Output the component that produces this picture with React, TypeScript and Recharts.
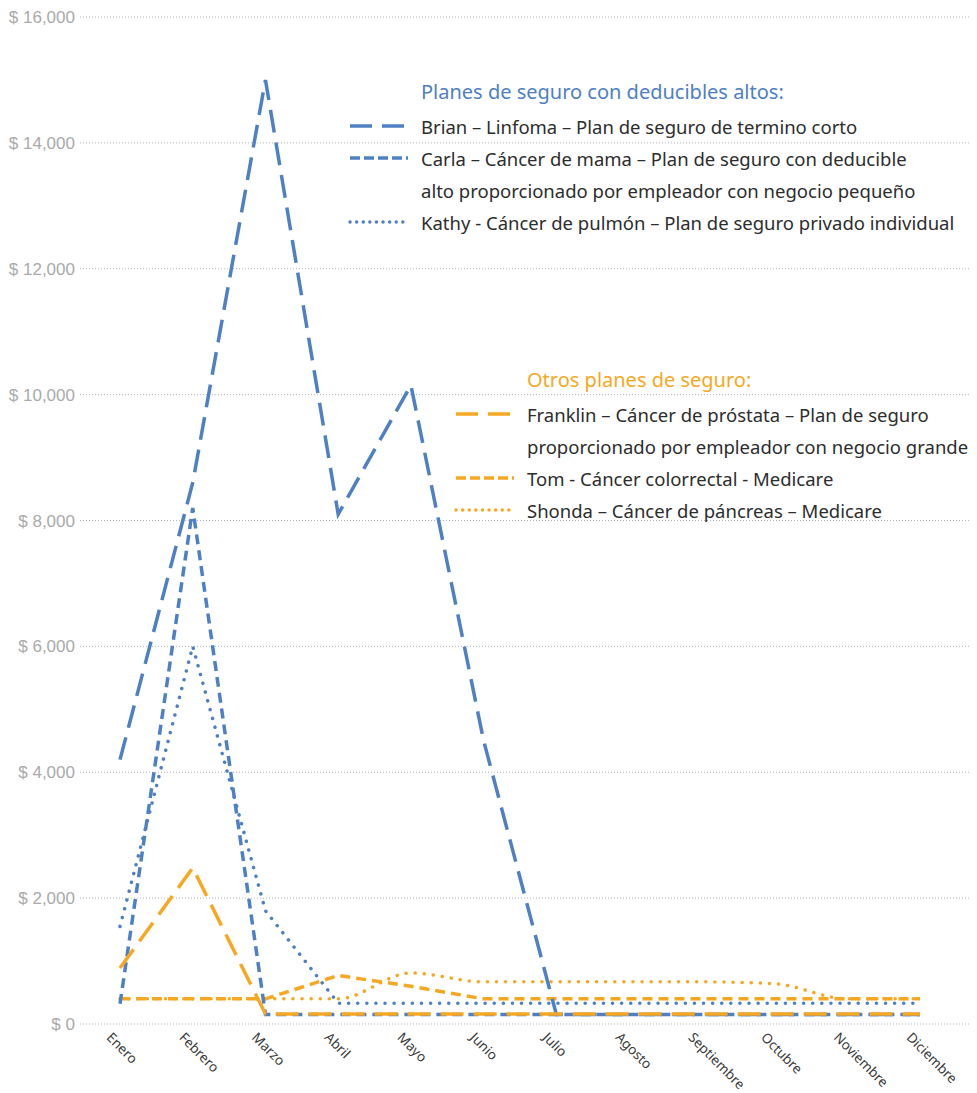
import React from "react";
import { LineChart, Line, XAxis, YAxis, CartesianGrid } from "recharts";

const BLUE = "#4E80C5";
const ORANGE = "#F7A823";

const months = [
  "Enero", "Febrero", "Marzo", "Abril", "Mayo", "Junio",
  "Julio", "Agosto", "Septiembre", "Octubre", "Noviembre", "Diciembre",
];

const brian = [4200, 8600, 15000, 8100, 10150, 4500, 150, 150, 150, 150, 150, 150];
const carla = [320, 8200, 150, 150, 150, 150, 150, 150, 150, 150, 150, 150];
const kathy = [1550, 6000, 1800, 330, 330, 330, 330, 330, 330, 330, 330, 330];
const franklin = [890, 2480, 160, 160, 160, 160, 160, 160, 160, 160, 160, 160];
const tom = [400, 400, 400, 770, 600, 400, 400, 400, 400, 400, 400, 400];
const shonda = [400, 400, 400, 400, 810, 670, 670, 670, 670, 640, 400, 400];

const yTicks = [0, 2000, 4000, 6000, 8000, 10000, 12000, 14000, 16000];

const data = months.map((m, i) => ({
  month: m,
  brian: brian[i],
  carla: carla[i],
  kathy: kathy[i],
  franklin: franklin[i],
  tom: tom[i],
  shonda: shonda[i],
}));

// line patterns in the chart
const LONG = "23 10";
const SHORT = "10 6";
const DOT = "0.1 9";
// line patterns in the legend samples
const LEG_LONG = "22 10";
const LEG_SHORT = "10 4";
const LEG_DOT = "0.1 6.5";

const font = "'Noto Sans', sans-serif";

const fmt = (v: number) => "$ " + v.toLocaleString("en-US");

function MonthTick(props: any) {
  const { x, y, payload } = props;
  return (
    <g transform={`translate(${x - 11},${y + 3})`}>
      <text
        transform="rotate(45)"
        textAnchor="start"
        fontSize={13.5}
        fill="#3a3a3a"
        fontFamily={font}
        dy="0.35em"
      >
        {payload.value}
      </text>
    </g>
  );
}

function Sample({ color, dash }: { color: string; dash: string }) {
  return (
    <svg width={62} height={12} style={{ display: "block" }}>
      <line
        x1={2}
        x2={60}
        y1={6}
        y2={6}
        stroke={color}
        strokeWidth={3.4}
        strokeDasharray={dash}
        strokeLinecap={dash === LEG_DOT ? "round" : "butt"}
      />
    </svg>
  );
}

function Row({ color, dash, lines }: { color?: string; dash?: string; lines: string[] }) {
  return (
    <>
      {lines.map((t, i) => (
        <div key={i} style={{ display: "flex", alignItems: "center", height: 32 }}>
          <div style={{ width: 73 }}>
            {i === 0 && color && dash ? <Sample color={color} dash={dash} /> : null}
          </div>
          <span style={{ fontSize: 18.5, color: "#2d2d2d", whiteSpace: "nowrap" }}>{t}</span>
        </div>
      ))}
    </>
  );
}

function ChartLegend() {
  return (
    <div style={{ fontFamily: font, position: "absolute", left: 0, top: 0, width: 977, height: 1093, pointerEvents: "none" }}>
      <div style={{ position: "absolute", left: 348, top: 76 }}>
        <div style={{ paddingLeft: 73, fontSize: 20, color: BLUE, height: 34, lineHeight: "32px", whiteSpace: "nowrap" }}>
          Planes de seguro con deducibles altos:
        </div>
        <Row color={BLUE} dash={LEG_LONG} lines={["Brian – Linfoma – Plan de seguro de termino corto"]} />
        <Row
          color={BLUE}
          dash={LEG_SHORT}
          lines={[
            "Carla – Cáncer de mama – Plan de seguro con deducible",
            "alto proporcionado por empleador con negocio pequeño",
          ]}
        />
        <Row color={BLUE} dash={LEG_DOT} lines={["Kathy - Cáncer de pulmón – Plan de seguro privado individual"]} />
      </div>
      <div style={{ position: "absolute", left: 454, top: 364 }}>
        <div style={{ paddingLeft: 73, fontSize: 20, color: ORANGE, height: 34, lineHeight: "32px", whiteSpace: "nowrap" }}>
          Otros planes de seguro:
        </div>
        <Row
          color={ORANGE}
          dash={LEG_LONG}
          lines={[
            "Franklin – Cáncer de próstata – Plan de seguro",
            "proporcionado por empleador con negocio grande",
          ]}
        />
        <Row color={ORANGE} dash={LEG_SHORT} lines={["Tom - Cáncer colorrectal - Medicare"]} />
        <Row color={ORANGE} dash={LEG_DOT} lines={["Shonda – Cáncer de páncreas – Medicare"]} />
      </div>
    </div>
  );
}

export default function App() {
  return (
    <div style={{ position: "absolute", left: 0, top: 0, width: 977, height: 1093, background: "#fff", overflow: "hidden" }}>
      <LineChart
        width={977}
        height={1093}
        data={data}
        margin={{ top: 17, right: 7, bottom: 0, left: 0 }}
      >
        <CartesianGrid vertical={false} stroke="#b5b5b5" strokeDasharray="1 2" />
        <XAxis
          dataKey="month"
          axisLine={false}
          tickLine={false}
          height={69}
          interval={0}
          padding={{ left: 40, right: 50 }}
          tick={<MonthTick />}
        />
        <YAxis
          domain={[0, 16000]}
          ticks={yTicks}
          tickFormatter={fmt}
          axisLine={false}
          tickLine={false}
          tickSize={0}
          tickMargin={5}
          width={80}
          interval={0}
          tick={{ fill: "#aaaaaa", fontSize: 17, fontFamily: "'Liberation Sans', sans-serif" }}
        />
        <Line dataKey="shonda" stroke={ORANGE} strokeWidth={3.5} strokeDasharray={DOT} strokeLinecap="round" dot={false} type="monotone" isAnimationActive={false} />
        <Line dataKey="tom" stroke={ORANGE} strokeWidth={3.5} strokeDasharray={SHORT} dot={false} type="linear" isAnimationActive={false} />
        <Line dataKey="kathy" stroke={BLUE} strokeWidth={3.5} strokeDasharray={DOT} strokeLinecap="round" dot={false} type="linear" isAnimationActive={false} />
        <Line dataKey="carla" stroke={BLUE} strokeWidth={3.5} strokeDasharray={SHORT} dot={false} type="linear" isAnimationActive={false} />
        <Line dataKey="brian" stroke={BLUE} strokeWidth={3.5} strokeDasharray={LONG} dot={false} type="linear" isAnimationActive={false} />
        <Line dataKey="franklin" stroke={ORANGE} strokeWidth={3.5} strokeDasharray={LONG} dot={false} type="linear" isAnimationActive={false} />
      </LineChart>
      <ChartLegend />
    </div>
  );
}
